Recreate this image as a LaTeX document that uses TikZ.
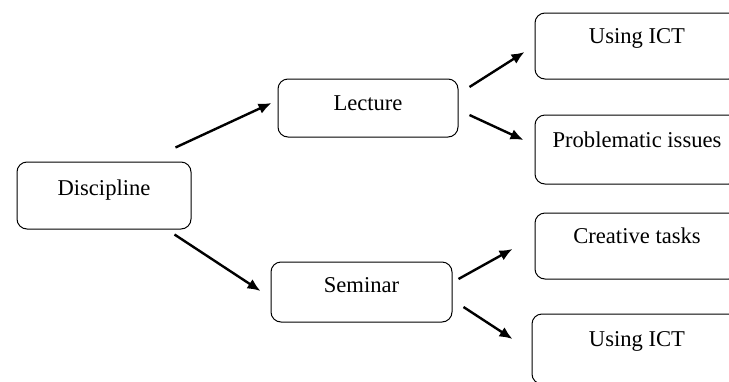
\documentclass[tikz,border=0pt]{standalone}
\usepackage{fontspec}
\setmainfont{Liberation Serif}
\usetikzlibrary{arrows.meta}

\begin{document}
\begin{tikzpicture}[x=0.5pt, y=-0.5pt,
  every node/.style={font=\fontsize{11.3}{13}\selectfont},
  box/.style={draw, line width=0.5pt, rounded corners=5pt, inner ysep=0pt},
  arr/.style={line width=1.2pt, -{Latex[length=6.5pt,width=5.5pt]}}]

\clip (0,0) rectangle (729,381);

% LEFT
\node[box, minimum width=87pt, text height=16.5pt, text depth=17pt] (disc) at (104,195.5) {Discipline};

% MIDDLE
\node[box, minimum width=90pt, text height=15.5pt, text depth=13.5pt] (lect) at (368,108) {Lecture};
\node[box, minimum width=90.5pt, text height=15pt, text depth=15pt] (sem) at (361.5,292) {Seminar};

% RIGHT (cut off by the page edge)
\node[box, minimum width=102pt, text height=15pt, text depth=18pt] (ict1) at (637,46) {Using ICT};
\node[box, minimum width=102pt, text height=16pt, text depth=18.5pt] (prob) at (637,149.5) {Problematic issues};
\node[box, minimum width=102pt, text height=15pt, text depth=18pt] (crea) at (637,246) {Creative tasks};
\node[box, minimum width=105pt, text height=16pt, text depth=19pt] (ict2) at (637,349) {Using ICT};

% ARROWS
\draw[arr] ([shift={(-16,-14)}]disc.north east) -- ([shift={(-6,-5)}]lect.west);
\draw[arr] ([shift={(-17,5)}]disc.south east) -- ([shift={(-10,-1)}]sem.west);
\draw[arr] ([shift={(11,-21)}]lect.east) -- ([shift={(-10,6)}]ict1.west);
\draw[arr] ([shift={(11,7)}]lect.east) -- ([shift={(-11,-9.5)}]prob.west);
\draw[arr] ([shift={(6,-13)}]sem.east) -- ([shift={(-22,3)}]crea.west);
\draw[arr] ([shift={(11,15)}]sem.east) -- ([shift={(-19,-10)}]ict2.west);

\end{tikzpicture}
\end{document}
